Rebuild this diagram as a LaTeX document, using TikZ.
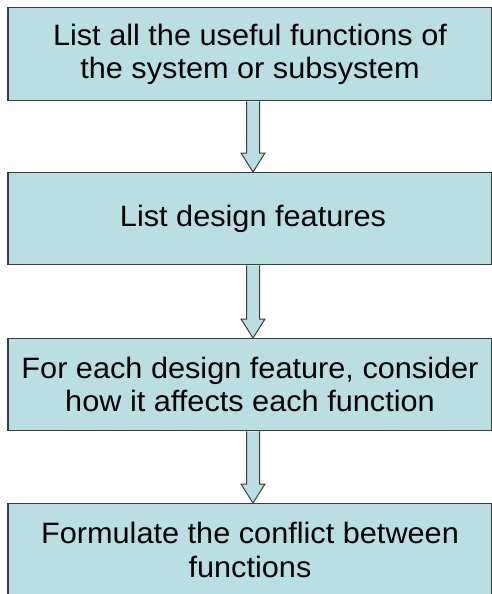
\documentclass[tikz,border=0pt]{standalone}
\usepackage{fontspec}
\setmainfont{Liberation Sans}[FakeStretch=1.04]
\usetikzlibrary{calc}
\definecolor{boxfill}{RGB}{186,223,227}
\definecolor{boxline}{RGB}{60,60,60}
\tikzset{
  stepbox/.style={draw=boxline, line width=1.3pt, fill=boxfill, minimum width=484pt, minimum height=93pt, inner sep=0pt, align=center, font=\fontsize{29.5}{33.5}\selectfont, anchor=north},
  blockarrow/.style={draw=boxline, line width=1pt, fill=boxfill, line join=miter}
}
\begin{document}
\begin{tikzpicture}[x=1pt,y=-1pt]
\useasboundingbox (0,0) rectangle (491,594);
\node[stepbox] (b1) at (250,7) {List all the useful functions of\\the system or subsystem};
\node[stepbox, minimum height=92pt] (b2) at (250,172) {\hspace*{6pt}List design features};
\node[stepbox, minimum height=92pt] (b3) at (250,338) {For each design feature, consider\\how it affects each function};
\node[stepbox] (b4) at (250,503) {Formulate the conflict between\\functions};
\foreach \a/\b in {b1/b2,b2/b3,b3/b4}{
  \draw[blockarrow] ($(\a.south)+(-3.5,0)$) -- ($(\b.north)+(-3.5,-19)$) -- ($(\b.north)+(-9,-19)$) -- ($(\b.north)+(3,0)$) -- ($(\b.north)+(15,-19)$) -- ($(\b.north)+(9.5,-19)$) -- ($(\a.south)+(9.5,0)$);
}
\end{tikzpicture}
\end{document}
